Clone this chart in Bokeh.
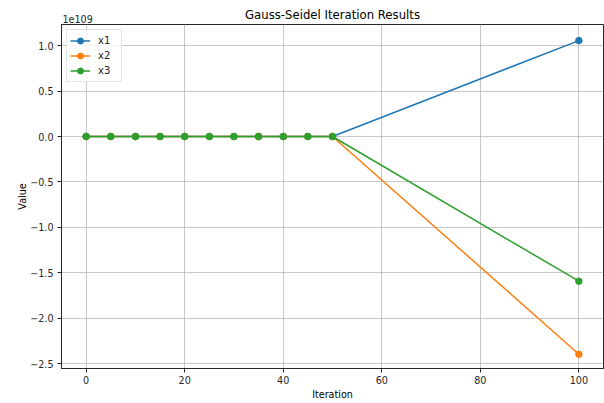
from bokeh.plotting import figure
from bokeh.models import (Range1d, FixedTicker, CustomJSTickFormatter, Label, Legend, LegendItem, Title)
from bokeh.embed import file_html
from bokeh.resources import INLINE

# Iteration snapshots and solution components (values in raw units)
iterations = [0, 5, 10, 15, 20, 25, 30, 35, 40, 45, 50, 100]
x1 = [0.0] * 11 + [1.055e109]
x2 = [0.0] * 11 + [-2.395e109]
x3 = [0.0] * 11 + [-1.592e109]
series_names = ["x1", "x2", "x3"]
series_colors = ["#1f77b4", "#ff7f0e", "#2ca02c"]
x_ticks = [0, 20, 40, 60, 80, 100]
y_ticks = [-2.5e109, -2.0e109, -1.5e109, -1.0e109, -0.5e109, 0.0, 0.5e109, 1.0e109]
SCALE = 1e109

FONT = "DejaVu Sans"
TXT = "#262626"
SMALL = "9.6px"

p = figure(width=604, height=403, output_backend="svg", toolbar_location=None,
           x_range=Range1d(-5, 105), y_range=Range1d(-2.552e109, 1.232e109),
           min_border_left=61, min_border_right=1, min_border_top=24, min_border_bottom=35)
p.title = Title(text="Gauss-Seidel Iteration Results", align="center",
                text_font=FONT, text_font_size="11.7px", text_font_style="normal",
                text_color="black", standoff=-10)
p.background_fill_color = "white"
p.border_fill_color = "white"
p.outline_line_color = "#262626"
p.outline_line_width = 1

p.xaxis.ticker = FixedTicker(ticks=x_ticks)
p.yaxis.ticker = FixedTicker(ticks=y_ticks)
p.yaxis.formatter = CustomJSTickFormatter(
    args=dict(scale=SCALE),
    code="const v = tick / scale; const s = Math.abs(v).toFixed(1); return (v < -1e-9 ? '\u2212' : '') + s;")

for ax in (p.xaxis[0], p.yaxis[0]):
    ax.major_label_text_font = FONT
    ax.major_label_text_font_size = SMALL
    ax.major_label_text_color = TXT
    ax.axis_label_text_font = FONT
    ax.axis_label_text_font_size = SMALL
    ax.axis_label_text_font_style = "normal"
    ax.axis_label_text_color = "black"
    ax.minor_tick_line_color = None
    ax.major_tick_out = 4
    ax.major_tick_in = 0
    ax.major_tick_line_color = TXT
    ax.axis_line_color = "#262626"
    ax.major_label_standoff = 4
p.xaxis.axis_label = "Iteration"
p.yaxis.axis_label = "Value"
p.xaxis.axis_label_standoff = 2
p.xaxis.major_label_standoff = 3
p.yaxis.axis_label_standoff = -1

p.grid.grid_line_color = "#b0b0b0"
p.grid.grid_line_alpha = 0.7
p.grid.grid_line_width = 1

items = []
for name, vals, col in zip(series_names, [x1, x2, x3], series_colors):
    ln = p.line(iterations, vals, line_color=col, line_width=1.5)
    sc = p.scatter(iterations, vals, size=6.5, fill_color=col, line_color=col)
    items.append(LegendItem(label=name, renderers=[ln, sc]))

legend = Legend(items=items, location="top_left")
legend.label_text_font = FONT
legend.label_text_font_size = "10px"
legend.label_text_color = TXT
legend.border_line_color = "#cccccc"
legend.border_line_width = 1
legend.background_fill_alpha = 0.8
legend.margin = 5
legend.padding = 3
legend.spacing = 0
legend.glyph_width = 20
legend.glyph_height = 15
legend.label_height = 15
legend.label_standoff = 8
p.add_layout(legend)

# Offset text for the scaled y axis, placed in the panel above the frame
p.add_layout(Label(x=1, y=2, x_units="screen", y_units="screen",
                   text="1e109", text_align="left", text_baseline="bottom",
                   text_font=FONT, text_font_size=SMALL, text_color=TXT), "above")

open("out.html", "w").write(file_html(p, INLINE))
